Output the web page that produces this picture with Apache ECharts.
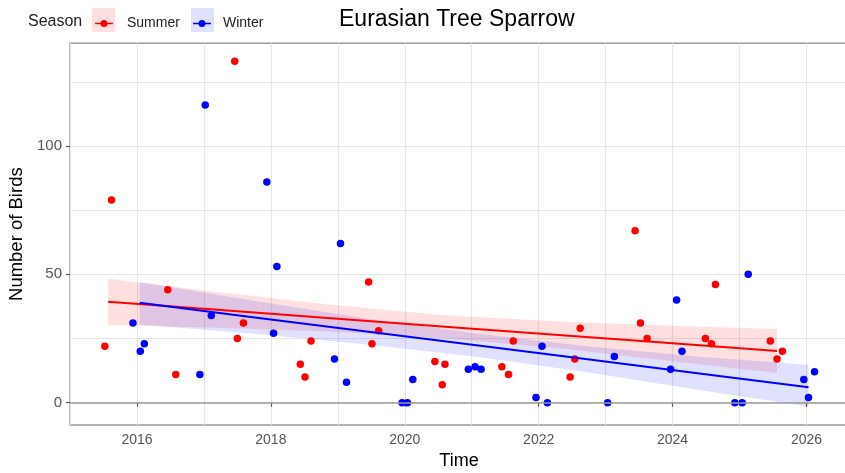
<!DOCTYPE html>
<html>
<head>
<meta charset="utf-8">
<script src="https://cdn.jsdelivr.net/npm/echarts@6/dist/echarts.min.js"></script>
<style>
html, body { margin: 0; padding: 0; background: #fff; }
#chart { width: 845px; height: 473px; }
</style>
</head>
<body>
<div id="chart"></div>
<script>
// ---- data ----
const summerTime  = [2015.52, 2015.62, 2016.46, 2016.58, 2017.46, 2017.50, 2017.59, 2018.44, 2018.51, 2018.60, 2019.46, 2019.51, 2019.61, 2020.45, 2020.56, 2020.60, 2021.45, 2021.55, 2021.62, 2022.47, 2022.54, 2022.62, 2023.44, 2023.52, 2023.62, 2024.49, 2024.58, 2024.64, 2025.46, 2025.56, 2025.64];
const summerCount = [22, 79, 44, 11, 133, 25, 31, 15, 10, 24, 47, 23, 28, 16, 7, 15, 14, 11, 24, 10, 17, 29, 67, 31, 25, 25, 23, 46, 24, 17, 20];

const winterTime  = [2015.94, 2016.05, 2016.11, 2016.94, 2017.02, 2017.11, 2017.94, 2018.04, 2018.09, 2018.95, 2019.04, 2019.13, 2019.96, 2020.04, 2020.12, 2020.95, 2021.05, 2021.14, 2021.96, 2022.05, 2022.13, 2023.03, 2023.13, 2023.97, 2024.06, 2024.14, 2024.93, 2025.04, 2025.13, 2025.96, 2026.03, 2026.12];
const winterCount = [31, 20, 23, 11, 116, 34, 86, 27, 53, 17, 62, 8, 0, 0, 9, 13, 14, 13, 2, 22, 0, 0, 18, 13, 40, 20, 0, 0, 50, 9, 2, 12];

// trend lines and confidence bands
const summerFitTime = [2015.57, 2017.2, 2018.8, 2020.6, 2022.4, 2024.0, 2025.56];
const summerFit     = [39.3, 36.2, 33.1, 29.6, 26.2, 23.1, 20.1];
const summerUpper   = [48.3, 43.1, 38.4, 34.1, 31.5, 30.0, 28.7];
const summerLower   = [30.3, 29.2, 27.8, 25.1, 20.9, 16.1, 11.6];

const winterFitTime = [2016.04, 2017.7, 2019.4, 2021.04, 2022.7, 2024.4, 2026.03];
const winterFit     = [38.9, 33.4, 27.8, 22.5, 17.0, 11.4, 6.0];
const winterUpper   = [47.0, 39.9, 32.9, 27.0, 22.1, 17.9, 14.8];
const winterLower   = [30.5, 26.9, 22.8, 18.0, 11.9, 4.9, -1.5];

const xTickLabels = [2016, 2018, 2020, 2022, 2024, 2026];
const xGridValues = [2015, 2016, 2017, 2018, 2019, 2020, 2021, 2022, 2023, 2024, 2025, 2026];
const yTickLabels = [0, 50, 100];
const yGridValues = [0, 25, 50, 75, 100, 125];
const zeroLine = [0];

// ---- chart ----
const FONT = '"Liberation Sans", Arial, Helvetica, sans-serif';
const RED = '#FF0000', BLUE = '#0000FF';
const RED_FILL = 'rgba(255,0,0,0.12)', BLUE_FILL = 'rgba(0,0,255,0.12)';
const X_MIN = 2015, X_MAX = 2026.62, Y_MIN = -8.7, Y_MAX = 140;

function zip(a, b) { return a.map((v, i) => [v, b[i]]); }

function bandSeries(name, xs, upper, lower, color) {
  return {
    name: name, type: 'custom', silent: true, z: 1,
    xAxisIndex: 0, yAxisIndex: 0,
    data: [0],
    clip: true,
    renderItem: function (params, api) {
      const pts = [];
      for (let i = 0; i < xs.length; i++) pts.push(api.coord([xs[i], upper[i]]));
      for (let i = xs.length - 1; i >= 0; i--) pts.push(api.coord([xs[i], lower[i]]));
      return { type: 'polygon', shape: { points: pts }, style: { fill: color, stroke: null } };
    }
  };
}

const keyIcon = 'path://M0,3 L5.8,3 L5.8,4.4 L0,4.4 Z M12.2,3 L18,3 L18,4.4 L12.2,4.4 Z M12.5,3.7 A3.5,3.5 0 1 1 5.5,3.7 A3.5,3.5 0 1 1 12.5,3.7 Z';

const chart = echarts.init(document.getElementById('chart'), null, { renderer: 'canvas' });
chart.setOption({
  animation: false,
  backgroundColor: '#ffffff',
  textStyle: { fontFamily: FONT },
  title: [
    { text: 'Eurasian Tree Sparrow', left: 339, top: 8, padding: 0,
      textStyle: { fontFamily: FONT, fontSize: 23, fontWeight: 'normal', color: '#000' } },
    { text: 'Season', left: 28, top: 14, padding: 0,
      textStyle: { fontFamily: FONT, fontSize: 16, fontWeight: 'normal', color: '#222' } }
  ],
  legend: [
    { data: ['Summer'], left: 95, top: 16.5, padding: 0, itemWidth: 18, itemHeight: 7.4, icon: keyIcon,
      textStyle: { fontFamily: FONT, fontSize: 14, color: '#222', padding: [0, 0, 0, 9] } },
    { data: ['Winter'], left: 193, top: 16.5, padding: 0, itemWidth: 18, itemHeight: 7.4, icon: keyIcon,
      textStyle: { fontFamily: FONT, fontSize: 14, color: '#222', padding: [0, 0, 0, 7] } }
  ],
  graphic: [
    { type: 'rect', left: 92, top: 8, z: 0, shape: { width: 23, height: 24 }, style: { fill: RED_FILL } },
    { type: 'rect', left: 191, top: 8, z: 0, shape: { width: 23, height: 24 }, style: { fill: BLUE_FILL } }
  ],
  grid: { left: 70, right: -3, top: 43.3, bottom: 48, outerBoundsMode: 'none', containLabel: false,
    show: true, borderColor: '#9a9a9a', borderWidth: 1.4, backgroundColor: '#fff' },
  xAxis: [
    { type: 'value', min: X_MIN, max: X_MAX, position: 'bottom',
      name: 'Time', nameLocation: 'middle', nameGap: 25,
      nameTextStyle: { fontFamily: FONT, fontSize: 18, color: '#000' },
      axisLine: { show: false },
      axisTick: { show: true, length: 4, customValues: xTickLabels, lineStyle: { color: '#555', width: 1.2 } },
      axisLabel: { show: true, customValues: xTickLabels, margin: 8, fontFamily: FONT, fontSize: 14, color: '#555', formatter: v => String(Math.round(v)) },
      splitLine: { show: false } },
    { type: 'value', min: X_MIN, max: X_MAX, position: 'bottom',
      axisLine: { show: false },
      axisTick: { show: false, customValues: xGridValues },
      axisLabel: { show: false },
      splitLine: { show: true, lineStyle: { color: '#e6e6e6', width: 1.2 } } }
  ],
  yAxis: [
    { type: 'value', min: Y_MIN, max: Y_MAX, position: 'left',
      name: 'Number of Birds', nameLocation: 'middle', nameGap: 40, nameRotate: 90,
      nameTextStyle: { fontFamily: FONT, fontSize: 18.5, color: '#000' },
      axisLine: { show: false },
      axisTick: { show: true, length: 4, customValues: yTickLabels, lineStyle: { color: '#555', width: 1.2 } },
      axisLabel: { show: true, customValues: yTickLabels, margin: 8, fontFamily: FONT, fontSize: 15, color: '#555' },
      splitLine: { show: false } },
    { type: 'value', min: Y_MIN, max: Y_MAX, position: 'left',
      axisLine: { show: false },
      axisTick: { show: false, customValues: yGridValues },
      axisLabel: { show: false },
      splitLine: { show: true, lineStyle: { color: '#e6e6e6', width: 1.2 } } }
  ],
  series: [
    {
      name: 'zero', type: 'line', data: [], silent: true, z: 1,
      markLine: { silent: true, symbol: 'none', label: { show: false },
        lineStyle: { color: '#9a9a9a', width: 1.6, type: 'solid' },
        data: zeroLine.map(v => ({ yAxis: v })) }
    },
    bandSeries('summerBand', summerFitTime, summerUpper, summerLower, RED_FILL),
    bandSeries('winterBand', winterFitTime, winterUpper, winterLower, BLUE_FILL),
    { name: 'Summer', type: 'scatter', data: zip(summerTime, summerCount), symbolSize: 7.5, z: 3,
      itemStyle: { color: RED, opacity: 1 } },
    { name: 'Winter', type: 'scatter', data: zip(winterTime, winterCount), symbolSize: 7.5, z: 3,
      itemStyle: { color: BLUE, opacity: 1 } },
    { name: 'summerFit', type: 'line', data: zip(summerFitTime, summerFit), showSymbol: false, symbol: 'none', z: 4,
      lineStyle: { color: RED, width: 2 }, silent: true },
    { name: 'winterFit', type: 'line', data: zip(winterFitTime, winterFit), showSymbol: false, symbol: 'none', z: 4,
      lineStyle: { color: BLUE, width: 2 }, silent: true }
  ]
});
</script>
</body>
</html>
